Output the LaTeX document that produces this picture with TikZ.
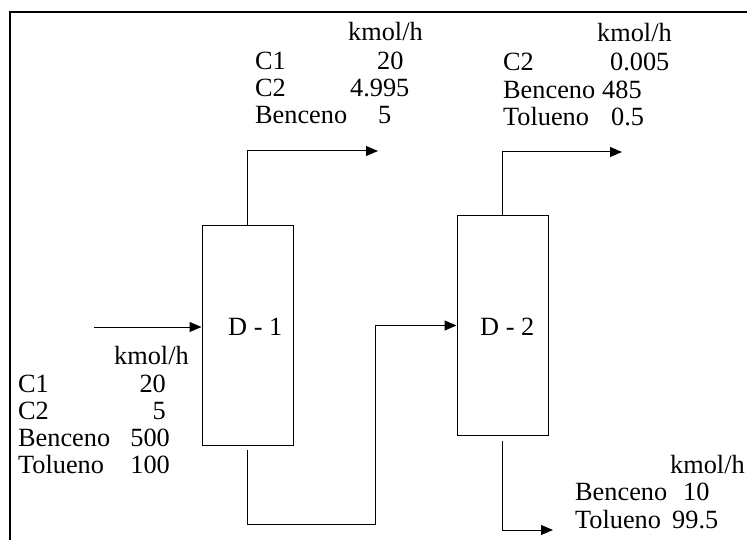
\documentclass[tikz,border=0pt]{standalone}
\usepackage{fontspec}
\setmainfont{Liberation Serif}
\usetikzlibrary{arrows.meta}
\begin{document}
\begin{tikzpicture}[x=1pt,y=-1pt,
  txt/.style={inner sep=0pt, anchor=base west, font=\fontsize{26.3}{27}\selectfont},
  txtr/.style={txt, anchor=base east},
  col/.style={draw, line width=1pt, minimum width=91pt, minimum height=219pt, inner sep=0pt},
  flow/.style={line width=1pt, -{Triangle[length=12pt,width=10pt]}},
  frame/.style={line width=2pt}]
\useasboundingbox (0,0) rectangle (747,540);
\clip (0,0) rectangle (747,540);
\draw[frame] (10,560) -- (10,12) -- (770,12);

% columns
\node[col] (d1) at (247.5,335.5) {};
\node[col] (d2) at (502.5,325.5) {};
\node[txt] (d1lab) at (228,335) {D - 1};
\node[txt] (d2lab) at (480,335) {D - 2};

% streams
\coordinate (feed) at (94,327);
\draw[flow] (feed) -- (feed -| d1.west);
\coordinate (o1) at (378,151);
\draw[flow] (d1.north) |- (o1);
\coordinate (b1) at (375,524);
\draw[flow] ([yshift=-4pt]d1.south) |- (b1) |- (d2.west);
\coordinate (o2) at (622,152);
\draw[flow] (d2.north) |- (o2);
\coordinate (o3) at (553,530);
\draw[flow] ([yshift=-5pt]d2.south) |- (o3);

% top-left table
\node[txt] (t1u) at (348,41) {kmol/h};
\node[txt] (t1a) at (255,70) {C1};
\node[txt] (t1av) at (377,70) {20};
\node[txt] (t1b) at (255,97) {C2};
\node[txt] (t1bv) at (350,97) {4.995};
\node[txt] (t1c) at (255,124) {Benceno};
\node[txt] (t1cv) at (378,124) {5};

% top-right table
\node[txt] (t2u) at (597,42) {kmol/h};
\node[txt] (t2a) at (503,71) {C2};
\node[txt] (t2av) at (610,71) {0.005};
\node[txt] (t2b) at (503,99) {Benceno};
\node[txt] (t2bv) at (602,99) {485};
\node[txt] (t2c) at (503,126) {Tolueno};
\node[txt] (t2cv) at (611,126) {0.5};

% feed table
\node[txt] (t3u) at (114,364) {kmol/h};
\node[txt] (t3a) at (18,392) {C1};
\node[txtr] (t3av) at (166,392) {20};
\node[txt] (t3b) at (18,419) {C2};
\node[txtr] (t3bv) at (166,419) {5};
\node[txt] (t3c) at (18,446) {Benceno};
\node[txtr] (t3cv) at (170,446) {500};
\node[txt] (t3d) at (18,473) {Tolueno};
\node[txtr] (t3dv) at (170,473) {100};

% bottom-right table
\node[txt] (t4u) at (670,473) {kmol/h};
\node[txt] (t4a) at (575,500) {Benceno};
\node[txt] (t4av) at (683,500) {10};
\node[txt] (t4b) at (575,528) {Tolueno};
\node[txt] (t4bv) at (672,528) {99.5};
\end{tikzpicture}
\end{document}
